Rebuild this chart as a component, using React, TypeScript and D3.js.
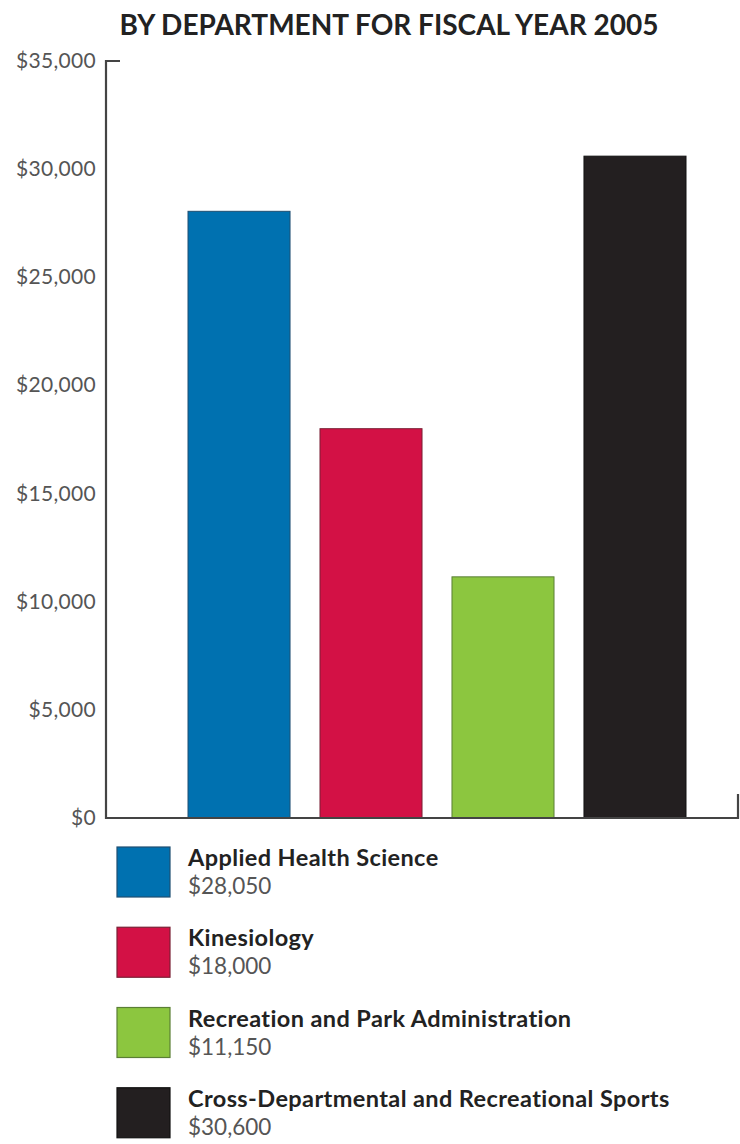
import React from "react";
import * as d3 from "d3";

const title = "BY DEPARTMENT FOR FISCAL YEAR 2005";
const departments = [
  "Applied Health Science",
  "Kinesiology",
  "Recreation and Park Administration",
  "Cross-Departmental and Recreational Sports",
];
const amounts = [28050, 18000, 11150, 30600];
const colors = ["#0071b0", "#d31145", "#8cc63f", "#231f20"];
const strokes = ["#1f4f72", "#7a2035", "#5a7f35", "#111111"];
const yTicks = [0, 5000, 10000, 15000, 20000, 25000, 30000, 35000];

const W = 740;
const H = 1144;

export default function App() {
  const y = d3.scaleLinear().domain([0, 35000]).range([818, 61]);
  const x = d3
    .scaleBand<string>()
    .domain(departments)
    .range([188, 686])
    .paddingInner(0.227)
    .paddingOuter(0);
  const fmt = (v: number) => "$" + d3.format(",")(v);
  const font = "Lato, 'Open Sans', sans-serif";
  const legendY = d3.scaleBand<string>().domain(departments).range([847, 1168]).paddingInner(0);

  return (
    <svg
      width={W}
      height={H}
      style={{ position: "absolute", left: 0, top: 0, background: "#fff" }}
      fontFamily={font}
    >
      <text x={389} y={35} textAnchor="middle" fontSize={28} fontWeight={700} fill="#222" letterSpacing={0}>
        {title}
      </text>
      {yTicks.map((t) => (
        <text key={t} x={96} y={y(t) + 7} textAnchor="end" fontSize={21} fill="#555" letterSpacing={0.3}>
          {fmt(t)}
        </text>
      ))}
      {departments.map((d, i) => (
        <rect
          key={d}
          x={x(d)}
          y={y(amounts[i])}
          width={x.bandwidth()}
          height={y(0) - y(amounts[i])}
          fill={colors[i]}
          stroke={strokes[i]}
          strokeWidth={1}
        />
      ))}
      <path
        d={`M120,${y(35000)} H106 V${y(0)} H738 V${y(0) - 24}`}
        fill="none"
        stroke="#444"
        strokeWidth={2.2}
      />
      {departments.map((d, i) => {
        const ly = legendY(d) as number;
        return (
          <g key={d}>
            <rect x={117} y={ly} width={53} height={50} fill={colors[i]} stroke={strokes[i]} strokeWidth={1.2} />
            <text x={188} y={ly + 19} fontSize={23.5} fontWeight={700} fill="#222" letterSpacing={0.4}>
              {d}
            </text>
            <text x={188} y={ly + 47} fontSize={22.5} fill="#555">
              {fmt(amounts[i])}
            </text>
          </g>
        );
      })}
    </svg>
  );
}
